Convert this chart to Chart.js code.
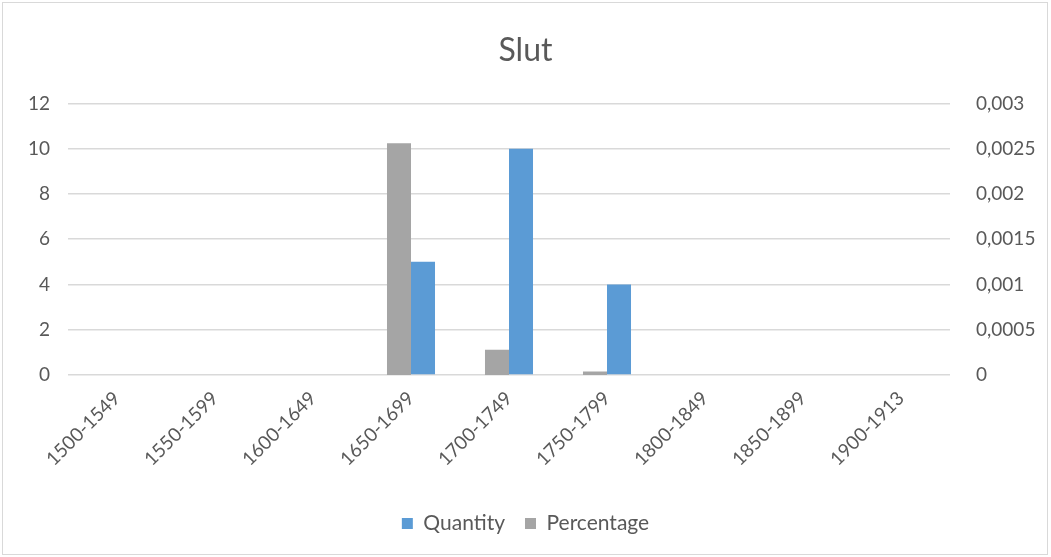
<!DOCTYPE html>
<html>
<head>
<meta charset="utf-8">
<script src="https://cdn.jsdelivr.net/npm/chart.js@4"></script>
<style>
  html, body { margin: 0; padding: 0; background: #fff; }
  #wrap { position: absolute; left: 2px; top: 2px; width: 1046px; height: 553px; border: 1px solid #d9d9d9; box-sizing: border-box; }
  canvas { position: absolute; left: -3px; top: -3px; }
</style>
</head>
<body>
<div id="wrap"><canvas id="chart" width="1051" height="557"></canvas></div>
<script>
const categories = ['1500-1549', '1550-1599', '1600-1649', '1650-1699', '1700-1749', '1750-1799', '1800-1849', '1850-1899', '1900-1913']
const quantity = [0, 0, 0, 5, 10, 4, 0, 0, 0]
const percentage = [0, 0, 0, 0.00256, 0.00028, 0.00004, 0, 0, 0]
const leftTicks = [0, 2, 4, 6, 8, 10, 12]
const rightTicks = [0, 0.0005, 0.001, 0.0015, 0.002, 0.0025, 0.003]

const textColor = '#595959'
const gridColor = '#d9d9d9'
const font = 'Lato, "Open Sans", sans-serif'

const chart = document.getElementById('chart').getContext('2d')
const conf = {
  type: 'bar',
  data: {
    labels: categories,
    datasets: [{
      label: 'Percentage',
      data: percentage,
      backgroundColor: '#a5a5a5',
      yAxisID: 'y2',
      categoryPercentage: 0.49,
      barPercentage: 1
    }, {
      label: 'Quantity',
      data: quantity,
      backgroundColor: '#5b9bd5',
      yAxisID: 'y',
      categoryPercentage: 0.49,
      barPercentage: 1
    }]
  },
  options: {
    responsive: false,
    animation: false,
    layout: { padding: { left: 0, right: 0, top: 0, bottom: 13 } },
    plugins: {
      title: {
        display: true,
        text: 'Slut',
        color: textColor,
        font: { family: font, size: 32, weight: 'normal' },
        padding: { top: 31, bottom: 34 }
      },
      legend: {
        position: 'bottom',
        reverse: true,
        labels: {
          color: textColor,
          font: { family: font, size: 21 },
          boxWidth: 11,
          boxHeight: 11,
          padding: 20
        }
      },
      tooltip: { enabled: false }
    },
    scales: {
      x: {
        grid: { display: false },
        border: { display: false },
        ticks: {
          color: textColor,
          font: { family: font, size: 19 },
          minRotation: 45,
          maxRotation: 45,
          padding: 4
        },
        afterFit: s => { s.height = 118 }
      },
      y: {
        position: 'left',
        min: 0,
        max: 12,
        afterBuildTicks: s => { s.ticks = leftTicks.map(v => ({ value: v })) },
        grid: { color: gridColor, lineWidth: 1.5, drawTicks: false },
        border: { display: false },
        ticks: {
          color: textColor,
          font: { family: font, size: 19 },
          padding: 18
        },
        afterFit: s => { s.width = 68 }
      },
      y2: {
        position: 'right',
        min: 0,
        max: 0.003,
        afterBuildTicks: s => { s.ticks = rightTicks.map(v => ({ value: v })) },
        grid: { display: false },
        border: { display: false },
        ticks: {
          color: textColor,
          font: { family: font, size: 19 },
          padding: 18,
          callback: v => String(+v.toFixed(4)).replace('.', ',')
        },
        afterFit: s => { s.width = 101 }
      }
    }
  }
}
new Chart(chart, conf)
</script>
</body>
</html>
